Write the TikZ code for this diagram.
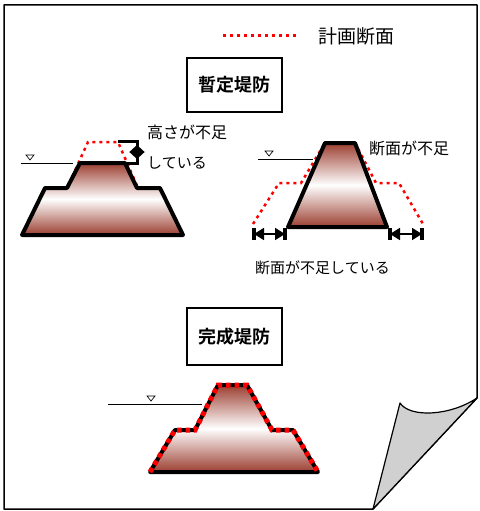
\documentclass[tikz,border=0pt]{standalone}
\usepackage{fontspec}
\newfontfamily\jp[BoldFont={Noto Sans CJK JP Bold}]{Noto Sans CJK JP}
\usetikzlibrary{arrows.meta}

\definecolor{dikebrown}{RGB}{155,62,48}
\definecolor{plancol}{RGB}{255,0,0}
\definecolor{curlgray}{RGB}{208,208,208}

\tikzset{
  dike/.style={draw=black, line width=4pt, line join=round,
    top color=dikebrown, bottom color=dikebrown, middle color=white},
  plan/.style={draw=plancol, line width=3pt, dash pattern=on 3pt off 4pt},
  planthick/.style={draw=plancol, line width=5pt, dash pattern=on 4.5pt off 4pt},
  water/.style={line width=1pt},
  wl/.style={line width=0.7pt},
  titlebox/.style={draw, line width=1.5pt, minimum width=95pt, minimum height=54pt,
    inner sep=0pt, font=\jp\bfseries\fontsize{18}{18}\selectfont},
  note/.style={font=\jp\fontsize{15}{15}\selectfont, anchor=west, inner sep=0pt},
  dimarrow/.style={{Triangle[length=10pt,width=12pt]}-{Triangle[length=10pt,width=12pt]},
    line width=1.8pt},
  bar/.style={line width=4.5pt},
}

\begin{document}
\begin{tikzpicture}[x=1pt,y=-1pt]
	\useasboundingbox (0,0) rectangle (479,511);

	% sheet with the folded corner
	\draw[line width=1.5pt, line join=round] (4,5) -- (477,5) -- (477,398)
		-- (373,509) -- (4,509) -- cycle;
	\filldraw[fill=curlgray, line width=1.2pt, line join=round] (477,398) -- (373,509)
		-- (400,403) .. controls (410,418) and (450,416) .. (477,398);

	% legend
	\coordinate (legA) at (223,36);
	\coordinate (legB) at (298,36);
	\draw[plan] (legA) -- (legB);
	\node[note, font=\jp\fontsize{19}{19}\selectfont] (legtext) at (318,36) {計画断面};

	% titles
	\node[titlebox] (tempbox) at (234.5,85) {暫定堤防};
	\node[titlebox, minimum height=57pt] (finalbox) at (234.5,336.5) {完成堤防};

	%--- temporary dike, too low ---
	\draw[plan, line width=2.5pt] (45,188) -- (67,188) -- (88,142) -- (118,142) -- (138,188) -- (160,188);
	\draw[dike] (22,235) -- (45,188) -- (67,188) -- (80,163) -- (125,163)
		-- (137,188) -- (160,188) -- (183,235) -- cycle;
	\draw[water] (21,163) -- (73,163);
	\draw[wl] (26,155) -- (34,155) -- (30,160) -- cycle;
	\draw[line width=3pt, line join=miter] (118,141) -- (137,141) -- (137,163) -- (126,163);
	\draw[{Triangle[length=7pt,width=15pt]}-{Triangle[length=7pt,width=15pt]}, line width=1pt]
		(137,145) -- (137,159);
	\node[note, font=\jp\fontsize{16}{16}\selectfont] (lowtext) at (147,132) {高さが不足};
	\node[note] (lowtext2) at (147,163) {している};

	%--- temporary dike, too narrow ---
	\draw[plan, line width=2.5pt] (253,224) -- (279,183) -- (301,183) -- (325,143) -- (355,143)
		-- (376,183) -- (399,183) -- (423,224);
	\draw[dike] (288,227) -- (325,143) -- (355,143) -- (387,227) -- cycle;
	\draw[water] (258,159) -- (313,159);
	\draw[wl] (265,151) -- (273,151) -- (269,156) -- cycle;
	\node[note, font=\jp\fontsize{16}{16}\selectfont] (narrowtext) at (369,148) {断面が不足};

	\coordinate (dimA) at (254,234);
	\coordinate (dimB) at (285,234);
	\coordinate (dimC) at (390,234);
	\coordinate (dimD) at (422,234);
	\foreach \p in {dimA,dimB,dimC,dimD}
		\draw[bar] ([yshift=-6pt]\p) -- ([yshift=6pt]\p);
	\draw[dimarrow] (dimA) -- (dimB);
	\draw[dimarrow] (dimC) -- (dimD);
	\node[note] (narrowtext2) at (255,268) {断面が不足している};

	%--- completed dike ---
	\draw[dike] (150,472) -- (175,430) -- (195,430) -- (218,385) -- (247,385)
		-- (272,430) -- (293,430) -- (318,472) -- cycle;
	\draw[planthick] (150,472) -- (175,430) -- (195,430) -- (218,385) -- (247,385)
		-- (272,430) -- (293,430) -- (318,472);
	\draw[water] (108,404) -- (202,404);
	\draw[wl] (147,396) -- (155,396) -- (151,401) -- cycle;

\end{tikzpicture}
\end{document}
